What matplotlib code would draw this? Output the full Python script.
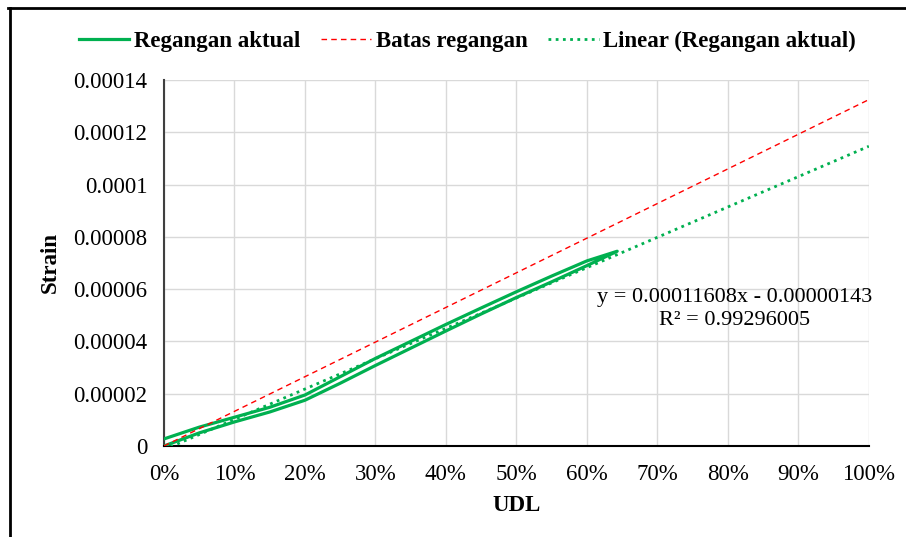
import numpy as np
import matplotlib.pyplot as plt
from matplotlib.lines import Line2D

plt.rcParams['font.family'] = ['Liberation Serif', 'DejaVu Serif']

# regangan aktual: beban naik lalu turun (loop)
udl_aktual = [0.0, 0.05, 0.10, 0.15, 0.20, 0.25, 0.30, 0.35, 0.40, 0.45, 0.50, 0.55, 0.60, 0.643,
              0.60, 0.55, 0.50, 0.45, 0.40, 0.35, 0.30, 0.25, 0.20, 0.15, 0.10, 0.05, 0.0]
strain_aktual = [0.0, 5.0e-6, 9.2e-6, 1.3e-5, 1.75e-5, 2.4e-5, 3.08e-5, 3.74e-5, 4.4e-5, 5.05e-5, 5.68e-5,
                 6.28e-5, 6.9e-5, 7.45e-5,
                 7.08e-5, 6.5e-5, 5.9e-5, 5.28e-5, 4.65e-5, 4.0e-5, 3.35e-5, 2.65e-5, 1.95e-5, 1.48e-5,
                 1.1e-5, 7.2e-6, 2.7e-6]

# batas regangan
udl_batas = [0.0, 1.0]
strain_batas = [0.0, 0.0001325]

# trendline linear dari excel
slope = 0.00011608
intercept = -0.00000143
udl_trend = [0.0, 1.0]

xticks = [0, 0.1, 0.2, 0.3, 0.4, 0.5, 0.6, 0.7, 0.8, 0.9, 1.0]
xlabels = ['0%', '10%', '20%', '30%', '40%', '50%', '60%', '70%', '80%', '90%', '100%']
yticks = [0, 0.00002, 0.00004, 0.00006, 0.00008, 0.0001, 0.00012, 0.00014]
ylabels = ['0', '0.00002', '0.00004', '0.00006', '0.00008', '0.0001', '0.00012', '0.00014']

fs = 16.5

fig = plt.figure(figsize=(9.06, 5.37), dpi=100)
ax = fig.add_axes([0.181, 0.1695, 0.778, 0.6815])

ax.plot(udl_aktual, strain_aktual, color='#00B050', lw=2.3, label='Regangan aktual', zorder=3)
ax.plot(udl_batas, strain_batas, color='#FF0000', lw=1.0, ls=(0, (4, 3)), label='Batas regangan', zorder=3)
y_trend = [slope * x + intercept for x in udl_trend]
ax.plot(udl_trend, y_trend, color='#00B050', lw=2.0, ls=(0, (1, 1.6)), label='Linear (Regangan aktual)', zorder=4)

ax.set_xlim(0, 1)
ax.set_ylim(0, 0.00014)
ax.set_xticks(xticks)
ax.set_xticklabels(xlabels, fontsize=fs)
ax.set_yticks(yticks)
ax.set_yticklabels(ylabels, fontsize=fs)
ax.tick_params(length=0, pad=12)
ax.tick_params(axis='x', pad=13)
ax.grid(True, color='#D9D9D9', lw=1.0)
ax.set_axisbelow(True)
for s in ['top', 'right']:
    ax.spines[s].set_visible(False)
ax.spines['left'].set_color('#404040')
ax.spines['left'].set_linewidth(1.5)
ax.spines['bottom'].set_color('black')
ax.spines['bottom'].set_linewidth(1.5)

ax.set_xlabel('UDL', fontsize=fs, fontweight='bold', labelpad=7)
ax.set_ylabel('Strain', fontsize=fs, fontweight='bold', labelpad=9)

ax.text(0.81, 0.0000525, 'y = 0.00011608x - 0.00000143\nR² = 0.99296005',
        fontsize=16, ha='center', va='center', linespacing=1.3)

fig.legend(loc='center', bbox_to_anchor=(0.516, 0.922), ncol=3, frameon=False,
           prop={'size': fs, 'weight': 'bold'}, handlelength=2.2, columnspacing=0.9, handletextpad=0.2)

# bingkai chart
fig.add_artist(Line2D([0.009, 1.0], [0.985, 0.985], color='black', lw=2.0, transform=fig.transFigure))
fig.add_artist(Line2D([0.0105, 0.0105], [0.0, 0.985], color='black', lw=2.0, transform=fig.transFigure))

fig.savefig('out.png', dpi=100)
